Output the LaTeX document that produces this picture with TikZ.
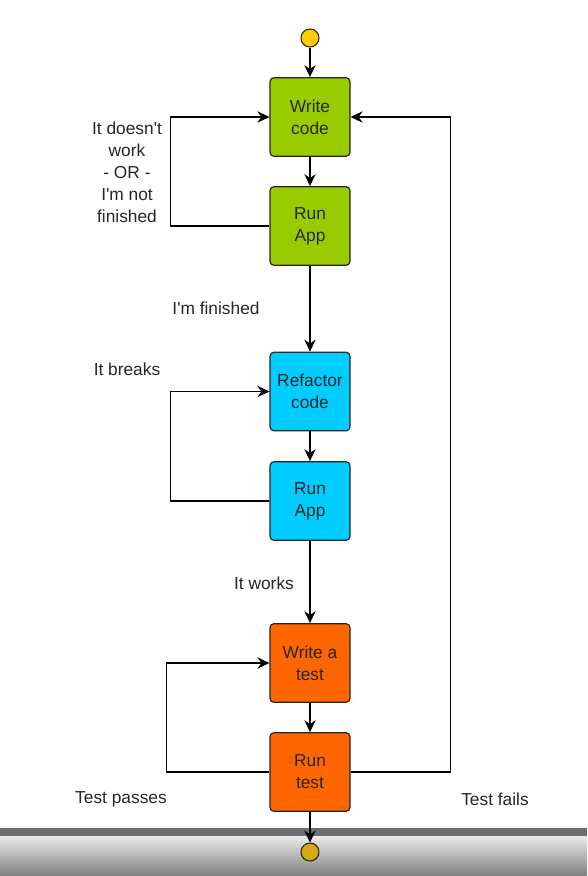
\documentclass[tikz,border=0pt]{standalone}
\usepackage{fontspec}
\setmainfont{Liberation Sans}
\usepackage{tikz}
\usetikzlibrary{shapes}
\usetikzlibrary{arrows.meta}
\definecolor{wcgreen}{HTML}{99CC00}
\definecolor{rfblue}{HTML}{00CCFF}
\definecolor{tsorange}{HTML}{FF6600}
\definecolor{dotyellow}{HTML}{FFCC00}
\definecolor{dotgold}{HTML}{D4AA12}
\definecolor{bardark}{HTML}{6C7073}
\tikzset{>={Stealth[length=9pt,width=8.5pt,inset=3pt]}}
\tikzset{
  stepbox/.style={draw=black!85, line width=0.9pt, rounded corners=3pt,
    minimum width=60pt, minimum height=59pt, align=center, inner sep=0pt,
    text=black!85},
  dot/.style={circle, draw=black!85, line width=0.8pt, minimum size=13.5pt, inner sep=0pt},
  lbl/.style={align=center, text=black!85},
  flow/.style={->, line width=0.9pt}
}

\begin{document}
\begin{tikzpicture}[x=0.75pt, y=-0.75pt, font=\fontsize{13}{16.5}\selectfont]
      \useasboundingbox (0,0) rectangle (587,876);
      % bottom bar
      \fill[bardark] (0,828) rectangle (587,836);
      \shade[top color=black!8, bottom color=black!50] (0,836) rectangle (587,876);

      \node (start) at (310,38) [dot, fill=dotyellow] {};
      \node (wc) at (310,117) [stepbox, fill=wcgreen] {Write\\code};
      \node (ra1) at (310,226) [stepbox, fill=wcgreen] {Run\\App};
      \node (rc) at (310,391.5) [stepbox, fill=rfblue] {Refactor\\code};
      \node (ra2) at (310,501) [stepbox, fill=rfblue] {Run\\App};
      \node (wt) at (310,663) [stepbox, fill=tsorange] {Write a\\test};
      \node (rt) at (310,772) [stepbox, fill=tsorange] {Run\\test};
      \node (stop) at (310,852) [dot, fill=dotgold] {};

      % labels
      \node (notdone) at (127,172) [lbl] {It doesn\textquotesingle t\\work\\- OR -\\I\textquotesingle m not\\finished};
      \node (done) at (216,308) [lbl] {I\textquotesingle m finished};
      \node (breaks) at (127,369) [lbl] {It breaks};
      \node (works) at (264,583) [lbl] {It works};
      \node (passes) at (121,799) [lbl] {Test passes};
      \node (fails) at (495,799) [lbl] {Test fails};

      % main flow
      \draw[flow] (start) -- (wc);
      \draw[flow] (wc) -- (ra1);
      \draw[flow] (ra1) -- (rc);
      \draw[flow] (rc) -- (ra2);
      \draw[flow] (ra2) -- (wt);
      \draw[flow] (wt) -- (rt);
      \draw[flow] (rt) -- (stop);

      % loops
      \draw[flow] (ra1.west) -- ++(-99,0) |- (wc.west);
      \draw[flow] (ra2.west) -- ++(-99,0) |- (rc.west);
      \draw[flow] (rt.west) -- ++(-103,0) |- (wt.west);
      \draw[flow] (rt.east) -- ++(100,0) |- (wc.east);
\end{tikzpicture}
\end{document}
